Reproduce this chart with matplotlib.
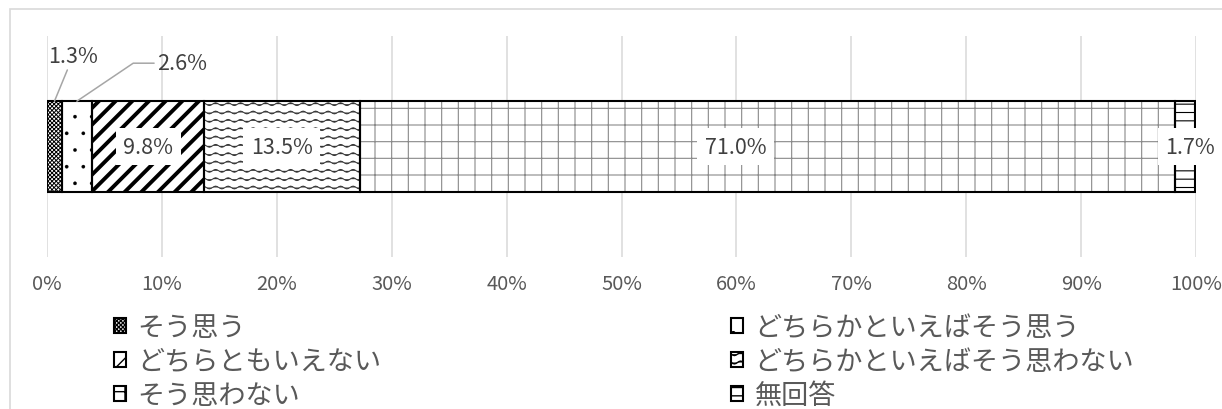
import warnings
import numpy as np
import matplotlib
matplotlib.use("Agg")
import matplotlib.pyplot as plt
import matplotlib.patches as mpatches
import matplotlib.hatch as mhatch
from matplotlib.path import Path
from matplotlib.ticker import PercentFormatter

# ---- data -------------------------------------------------------------
categories = ["そう思う", "どちらかといえばそう思う", "どちらともいえない",
              "どちらかといえばそう思わない", "そう思わない", "無回答"]
values = [1.3, 2.6, 9.8, 13.5, 71.0, 1.7]          # percent
tick_values = [0, 10, 20, 30, 40, 50, 60, 70, 80, 90, 100]


# ---- a wavy hatch ("~") ---------------------------------------------
class WaveHatch(mhatch.HatchPatternBase):
    def __init__(self, hatch, density):
        self.num_lines = int(hatch.count("~") * density * 2)
        self.n_pts = 8 * 8 + 1
        self.num_vertices = self.num_lines * self.n_pts

    def set_vertices_and_codes(self, vertices, codes):
        xs = np.linspace(0.0, 1.0, self.n_pts)
        wave = 0.014 * np.sin(2 * np.pi * 8 * xs)
        ys = (np.arange(self.num_lines) + 0.5) / self.num_lines
        for i, y in enumerate(ys):
            sl = slice(i * self.n_pts, (i + 1) * self.n_pts)
            vertices[sl, 0] = xs
            vertices[sl, 1] = y + wave
            codes[sl] = Path.LINETO
            codes[i * self.n_pts] = Path.MOVETO


mhatch._hatch_types.append(WaveHatch)
warnings.filterwarnings("ignore", message=".*hatch must consist.*")

plt.rcParams["font.family"] = ["Noto Sans CJK JP", "DejaVu Sans"]

# fill styles per category: (hatch, hatch colour, hatch linewidth)
styles = [
    ("xxxxxxxx", "#000000", 0.7),
    (".", "#000000", 0.2),
    ("//", "#000000", 2.8),
    ("~", "#333333", 0.7),
    ("+", "#8a8a8a", 0.8),
    ("--", "#000000", 0.8),
]

W, H, DPI = 1222, 410, 100
fig = plt.figure(figsize=(W / DPI, H / DPI), dpi=DPI)

# outer chart frame
fig.patches.append(mpatches.Rectangle(
    (10 / W, -0.2), 1.2, 1.2 - 10 / H, transform=fig.transFigure,
    fill=False, edgecolor="#d9d9d9", linewidth=1.2, zorder=0))

ax = fig.add_axes([47 / W, (H - 258) / H, 1149 / W, 221 / H])

lefts = np.concatenate([[0.0], np.cumsum(values)[:-1]])
bar_h = 0.41

for v, l, (hatch, hc, hlw) in zip(values, lefts, styles):
    b = ax.barh(0, v, left=l, height=bar_h, color="white",
                edgecolor=hc, linewidth=0, hatch=hatch, zorder=2)
    for p in b:
        if hasattr(p, "set_hatch_linewidth"):
            p.set_hatch_linewidth(hlw)
ax.barh([0] * len(values), values, left=lefts, height=bar_h, fill=False,
        edgecolor="black", linewidth=1.5, zorder=3)

ax.set_xlim(0, 100)
ax.set_ylim(-0.5, 0.5)
ax.set_xticks(tick_values)
ax.xaxis.set_major_formatter(PercentFormatter(100, decimals=0))
ax.set_yticks([])
for s in ax.spines.values():
    s.set_visible(False)
ax.tick_params(axis="x", length=0, pad=11.5, labelsize=14.5, labelcolor="#595959")
ax.grid(axis="x", color="#d9d9d9", linewidth=1.1, zorder=0)
ax.set_axisbelow(True)

# ---- value labels ----------------------------------------------------
label_color = "#404040"
label_size = 15.5
centers = lefts + np.array(values) / 2
box = dict(boxstyle="square,pad=0.35", facecolor="white", edgecolor="none")

for i in (2, 3):
    ax.text(centers[i], 0, f"{values[i]:.1f}%", ha="center", va="center",
            fontsize=label_size, color=label_color, bbox=box, zorder=5)
ax.annotate(f"{values[4]:.1f}%", (centers[4], 0), xytext=(-32, 0),
            textcoords="offset pixels", ha="center", va="center",
            fontsize=label_size, color=label_color, bbox=box, zorder=5)
ax.annotate(f"{values[5]:.1f}%", (centers[5], 0), xytext=(5, 0),
            textcoords="offset pixels", ha="center", va="center",
            fontsize=label_size, color=label_color, bbox=box, zorder=5,
            annotation_clip=False)

leader = dict(arrowstyle="-", color="#a6a6a6", linewidth=1.1,
              shrinkA=0, shrinkB=0)
ax.annotate(f"{values[0]:.1f}%", (centers[0], bar_h / 2), xytext=(19, 45),
            textcoords="offset pixels", ha="center", va="center",
            fontsize=label_size, color=label_color,
            arrowprops=dict(leader, relpos=(0.4, 0)), zorder=5,
            annotation_clip=False)
ax.annotate(f"{values[1]:.1f}%", (centers[1], bar_h / 2), xytext=(80, 38),
            textcoords="offset pixels", ha="left", va="center",
            fontsize=label_size, color=label_color,
            arrowprops=dict(leader, relpos=(0, 0.5),
                            connectionstyle="angle,angleA=0,angleB=34,rad=0"),
            zorder=5, annotation_clip=False)

# ---- legend -----------------------------------------------------------
handles = []
for (hatch, hc, hlw) in styles:
    h = mpatches.Patch(facecolor="white", edgecolor="black", linewidth=1.5,
                       hatch=hatch)
    handles.append(h)

leg_kw = dict(frameon=False, fontsize=19.5, labelcolor="#595959",
              handlelength=0.45, handleheight=0.45, handletextpad=0.42,
              labelspacing=0.26, borderpad=0, borderaxespad=0, loc="upper left")
order_left = [0, 2, 4]
order_right = [1, 3, 5]
fig.legend([handles[i] for i in order_left], [categories[i] for i in order_left],
           bbox_to_anchor=(114 / W, 1 - 315 / H), **leg_kw)
fig.legend([handles[i] for i in order_right], [categories[i] for i in order_right],
           bbox_to_anchor=(731 / W, 1 - 315 / H), **leg_kw)

fig.savefig("out.png", dpi=DPI)
